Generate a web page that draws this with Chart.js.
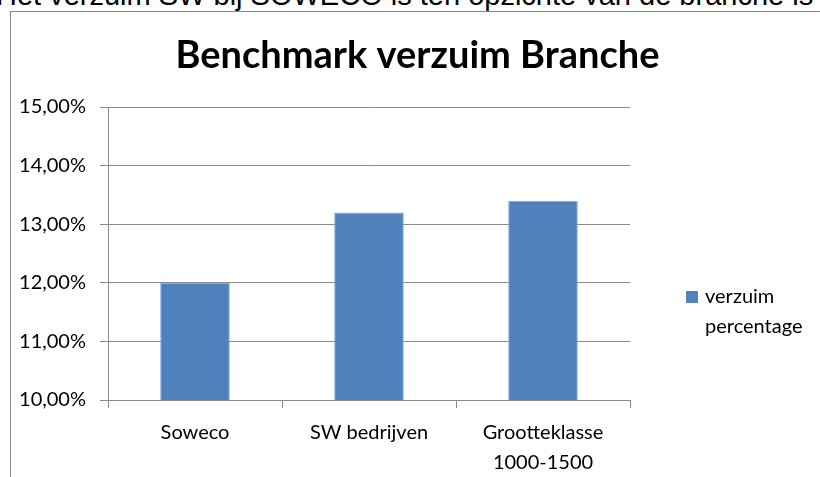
<!DOCTYPE html>
<html lang="nl">
<head>
  <meta charset="UTF-8" />
  <title>Benchmark verzuim Branche</title>
  <script src="https://cdn.jsdelivr.net/npm/chart.js"></script>
  <style>
    html, body { margin: 0; padding: 0; background: #fff; overflow: hidden; }
    body { width: 820px; height: 477px; position: relative; }
    .zin {
      position: absolute; left: -4px; top: -19px;
      font: 29px/29px "Liberation Sans", Arial, sans-serif;
      color: #000; white-space: nowrap;
    }
    .kader {
      position: absolute; left: 10px; top: 11px; width: 900px; height: 600px;
      border-left: 1px solid #888; border-top: 1px solid #888;
    }
    #grafiek { position: absolute; left: 0; top: 0; }
  </style>
</head>
<body>
  <div class="zin">Het verzuim SW bij SOWECO is ten opzichte van de branche is</div>
  <div class="kader"></div>
  <canvas id="grafiek" width="820" height="477"></canvas>

  <script>
    const titel = 'Benchmark verzuim Branche';
    const categorieen = ['Soweco', 'SW bedrijven', ['Grootteklasse', '1000-1500']];
    const verzuimPercentage = [12.0, 13.2, 13.4];
    const reeksNaam = 'verzuim percentage';
    const legendaRegels = ['verzuim', 'percentage'];
    const yMin = 10, yMax = 15, yStap = 1;

    const lettertype = 'Lato, "Open Sans", sans-serif';
    const blauw = '#4F81BD';
    const grijs = '#8a8a8a';

    // legenda zoals in Excel: blokje met tekst over twee regels
    const legendaPlugin = {
      id: 'legenda',
      afterDraw(chart) {
        const ctx = chart.ctx;
        const area = chart.chartArea;
        const x = area.right + 56;
        const y = area.top + 184;
        ctx.save();
        ctx.fillStyle = blauw;
        ctx.fillRect(x, y, 12, 12);
        ctx.fillStyle = '#000';
        ctx.font = '20px ' + lettertype;
        ctx.textBaseline = 'alphabetic';
        legendaRegels.forEach((regel, i) => {
          ctx.fillText(regel, x + 19, y + 12 + i * 30);
        });
        ctx.restore();
      }
    };

    const ctx = document.getElementById('grafiek').getContext('2d');
    new Chart(ctx, {
      type: 'bar',
      data: {
        labels: categorieen,
        datasets: [{
          label: reeksNaam,
          data: verzuimPercentage,
          backgroundColor: blauw,
          borderColor: '#86a8d4',
          borderWidth: 1,
          barPercentage: 0.4,
          categoryPercentage: 1
        }]
      },
      options: {
        responsive: false,
        animation: false,
        layout: { padding: { left: 15, right: 0, top: 0, bottom: 0 } },
        plugins: {
          legend: { display: false },
          tooltip: { enabled: false },
          title: {
            display: true,
            text: titel,
            color: '#000',
            font: { family: lettertype, size: 38, weight: 'bold', lineHeight: 1.2 },
            padding: { top: 33, bottom: 28.4 }
          }
        },
        scales: {
          x: {
            grid: { display: true, drawOnChartArea: false, color: grijs, tickLength: 8, offset: true },
            border: { display: true, color: grijs },
            ticks: { color: '#000', font: { family: lettertype, size: 20, lineHeight: 1.5 }, padding: 10, maxRotation: 0 },
            afterFit(scale) { scale.height = 77; }
          },
          y: {
            min: yMin,
            max: yMax,
            grid: { color: grijs, tickLength: 8 },
            border: { display: true, color: grijs },
            ticks: {
              stepSize: yStap,
              color: '#000',
              padding: 14,
              font: { family: lettertype, size: 20 },
              callback: v => v.toFixed(2).replace('.', ',') + '%'
            },
            afterFit(scale) { scale.width = 93; }
          },
          // lege ruimte rechts voor de legenda
          rechts: {
            type: 'linear',
            position: 'right',
            grid: { display: false },
            border: { display: false },
            ticks: { display: false },
            afterFit(scale) { scale.width = 190; }
          }
        }
      },
      plugins: [legendaPlugin]
    });
  </script>
</body>
</html>
